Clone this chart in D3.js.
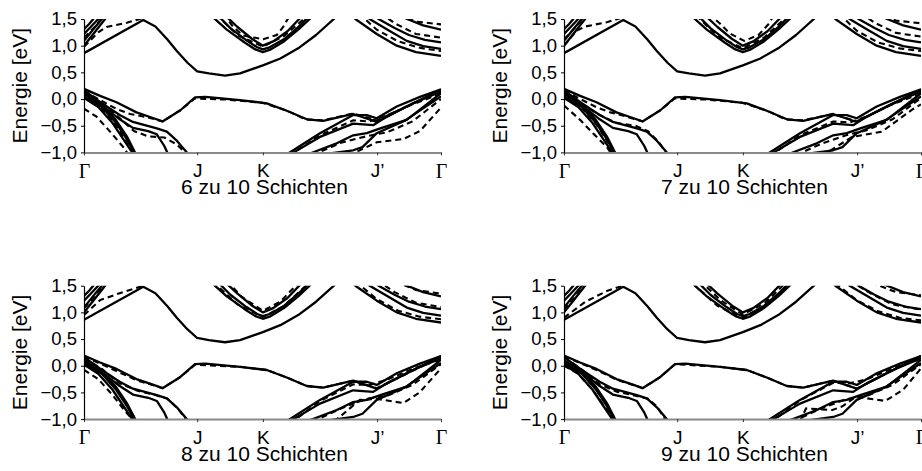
<!DOCTYPE html>
<html>
<head>
<meta charset="utf-8">
<script src="https://cdn.jsdelivr.net/npm/d3@7"></script>
<style>
  body { margin: 0; background: #fff; }
  svg { display: block; }
</style>
</head>
<body>
<svg id="dessin" width="922" height="471"></svg>
<script>
// chemin dans la zone de Brillouin (fraction du chemin) et étiquettes
const kTicks = [0, 0.317, 0.501, 0.821, 1];
const kLabels = ["Γ", "J", "K", "J’", "Γ"];
const eTicks = [-1, -0.5, 0, 0.5, 1, 1.5];
const titles = ["6 zu 10 Schichten", "7 zu 10 Schichten", "8 zu 10 Schichten", "9 zu 10 Schichten"];

// bandes 10 Schichten (trait plein), points [k, E en eV]
const c1 = [[0,0.86],[0.166,1.48],[0.2,1.36],[0.233,1.12],[0.26,0.9],[0.29,0.68],[0.317,0.52],[0.35,0.48],[0.395,0.44],[0.437,0.48],[0.501,0.63],[0.55,0.76],[0.60,0.95],[0.65,1.2],[0.70,1.5],[0.73,1.7]];
const kv1 = [[0.35,1.6],[0.40,1.3],[0.45,1.06],[0.48,0.93],[0.501,0.88],[0.52,0.92],[0.56,1.08],[0.60,1.3],[0.64,1.55]];
const kv2 = [[0.37,1.6],[0.41,1.33],[0.455,1.1],[0.485,0.97],[0.501,0.93],[0.52,0.97],[0.56,1.12],[0.60,1.35],[0.635,1.58]];
const kv3 = [[0.39,1.6],[0.43,1.35],[0.47,1.13],[0.501,1.0],[0.53,1.08],[0.57,1.27],[0.61,1.55]];
const cj1 = [[0.74,1.65],[0.76,1.5],[0.82,1.22],[0.876,1.0],[0.93,0.88],[1.0,0.81]];
const cj2 = [[0.78,1.65],[0.80,1.5],[0.848,1.31],[0.904,1.09],[0.95,0.99],[1.0,0.94]];
const cj3 = [[0.81,1.6],[0.825,1.5],[0.87,1.33],[0.91,1.2],[0.955,1.11],[1.0,1.06]];
const cj4 = [[0.88,1.6],[0.905,1.5],[0.95,1.38],[1.0,1.3]];
const cg1 = [[0,1.0],[0.03,1.25],[0.059,1.5],[0.07,1.6]];
const cg2 = [[0,1.09],[0.025,1.3],[0.05,1.5],[0.06,1.6]];
const cg3 = [[0,1.22],[0.02,1.36],[0.04,1.5],[0.05,1.58]];
const cg4 = [[0,1.31],[0.015,1.41],[0.026,1.5],[0.035,1.58]];
const v1 = [[0,0.19],[0.045,0.06],[0.091,-0.06],[0.147,-0.25],[0.195,-0.36],[0.22,-0.42],[0.27,-0.21],[0.311,0.03],[0.34,0.04],[0.437,-0.02],[0.512,-0.08],[0.568,-0.22],[0.624,-0.38],[0.67,-0.41],[0.754,-0.28],[0.82,-0.43],[0.904,-0.14],[1.0,0.18]];
const v2 = [[0,0.16],[0.05,-0.08],[0.1,-0.3],[0.137,-0.43],[0.204,-0.55],[0.232,-0.61],[0.26,-0.78],[0.288,-1.0],[0.3,-1.15]];
const v3 = [[0,0.1],[0.06,-0.17],[0.1,-0.38],[0.137,-0.54],[0.18,-0.6],[0.204,-0.66],[0.225,-0.88],[0.24,-1.1]];
const v4 = [[0,0.1],[0.05,-0.1],[0.09,-0.4],[0.12,-0.7],[0.143,-1.0],[0.155,-1.15]];
const v5 = [[0,0.05],[0.05,-0.15],[0.09,-0.45],[0.12,-0.75],[0.14,-1.0],[0.15,-1.15]];
const v6 = [[0,0.02],[0.04,-0.15],[0.08,-0.45],[0.11,-0.75],[0.135,-1.0],[0.145,-1.15]];
const vj1 = [[0.56,-1.15],[0.572,-1.02],[0.661,-0.64],[0.754,-0.3],[0.792,-0.3],[0.82,-0.36],[0.876,-0.14],[0.941,0.04],[1.0,0.18]];
const vj2 = [[0.575,-1.15],[0.582,-1.02],[0.661,-0.71],[0.754,-0.46],[0.81,-0.49],[0.848,-0.33],[0.922,-0.08],[1.0,0.14]];
const vj3 = [[0.62,-1.1],[0.633,-1.02],[0.708,-0.83],[0.754,-0.68],[0.792,-0.64],[0.83,-0.55],[0.904,-0.39],[1.0,0.11]];
const vj4 = [[0.66,-1.1],[0.689,-1.02],[0.754,-0.96],[0.78,-0.9],[0.82,-0.64],[0.9,-0.4],[1.0,0.05]];

const solid10 = [c1, kv1, kv2, kv3, cj1, cj2, cj3, cj4, cg1, cg2, cg3, cg4, v1, v2, v3, v4, v5, v6, vj1, vj2, vj3, vj4];

// bandes 6, 7, 8, 9 Schichten (tirets)
const dashed6 = [
  [[0,0.98],[0.04,1.25],[0.063,1.35],[0.12,1.43],[0.165,1.52]],
  [[0,1.15],[0.03,1.35],[0.05,1.52]],
  [[0.37,1.58],[0.43,1.2],[0.501,0.98],[0.56,1.18],[0.625,1.55]],
  [[0.39,1.6],[0.418,1.35],[0.446,1.19],[0.502,1.12],[0.54,1.2],[0.558,1.35],[0.575,1.55]],
  [[0.77,1.6],[0.82,1.3],[0.88,1.08],[0.94,0.96],[1.0,0.9]],
  [[0.83,1.62],[0.87,1.42],[0.93,1.22],[1.0,1.15]],
  [[0.88,1.58],[0.93,1.45],[1.0,1.4]],
  [[0,0.15],[0.04,0.0],[0.092,-0.19],[0.129,-0.28],[0.176,-0.34],[0.22,-0.42],[0.27,-0.21],[0.31,0.01],[0.40,-0.01],[0.5,-0.07],[0.57,-0.22],[0.62,-0.38],[0.67,-0.4],[0.754,-0.27],[0.82,-0.4],[0.9,-0.15],[1.0,0.15]],
  [[0,0.1],[0.06,-0.12],[0.11,-0.42],[0.14,-0.6],[0.18,-0.7],[0.225,-0.72],[0.26,-0.85],[0.29,-1.05]],
  [[0,-0.18],[0.035,-0.33],[0.073,-0.61],[0.11,-0.9],[0.12,-1.0],[0.13,-1.12]],
  [[0,0.03],[0.05,-0.18],[0.09,-0.5],[0.12,-0.82],[0.14,-1.0],[0.15,-1.12]],
  [[0.74,-1.05],[0.76,-1.0],[0.82,-0.81],[0.895,-0.75],[0.941,-0.6],[1.0,-0.16]],
  [[0.58,-1.1],[0.6,-0.95],[0.661,-0.68],[0.754,-0.4],[0.8,-0.42],[0.85,-0.3],[0.92,-0.1],[1.0,0.1]],
  [[0.64,-1.05],[0.72,-0.82],[0.79,-0.7],[0.85,-0.62],[0.92,-0.42],[1.0,0.0]]
];
const dashed7 = [
  [[0,1.0],[0.035,1.28],[0.06,1.36],[0.12,1.44],[0.16,1.52]],
  [[0,1.12],[0.03,1.33],[0.055,1.53]],
  [[0.37,1.57],[0.43,1.18],[0.501,0.95],[0.56,1.15],[0.625,1.55]],
  [[0.405,1.6],[0.436,1.42],[0.464,1.23],[0.505,1.09],[0.545,1.2],[0.575,1.42],[0.59,1.6]],
  [[0.77,1.6],[0.82,1.28],[0.88,1.06],[0.94,0.95],[1.0,0.9]],
  [[0.83,1.62],[0.87,1.43],[0.93,1.24],[1.0,1.17]],
  [[0.87,1.6],[0.93,1.47],[1.0,1.42]],
  [[0,0.16],[0.04,0.02],[0.09,-0.15],[0.13,-0.25],[0.176,-0.33],[0.22,-0.42],[0.27,-0.21],[0.31,0.01],[0.40,-0.01],[0.5,-0.07],[0.57,-0.22],[0.62,-0.38],[0.67,-0.4],[0.754,-0.28],[0.82,-0.42],[0.9,-0.16],[1.0,0.16]],
  [[0,0.12],[0.05,-0.1],[0.1,-0.3],[0.147,-0.45],[0.2,-0.5],[0.235,-0.6],[0.265,-0.8],[0.29,-1.05]],
  [[0,-0.12],[0.045,-0.39],[0.081,-0.64],[0.12,-0.9],[0.13,-1.0],[0.14,-1.1]],
  [[0,0.04],[0.05,-0.16],[0.09,-0.47],[0.122,-0.8],[0.142,-1.0],[0.152,-1.12]],
  [[0.72,-1.05],[0.75,-0.95],[0.807,-0.71],[0.891,-0.61],[0.975,-0.2],[1.0,-0.1]],
  [[0.58,-1.1],[0.6,-0.96],[0.661,-0.68],[0.754,-0.42],[0.8,-0.44],[0.85,-0.32],[0.92,-0.1],[1.0,0.1]],
  [[0.65,-1.05],[0.72,-0.84],[0.79,-0.68],[0.85,-0.58],[0.92,-0.38],[1.0,0.02]]
];
const dashed8 = [
  [[0,0.95],[0.045,1.23],[0.1,1.36],[0.157,1.48],[0.17,1.52]],
  [[0,1.08],[0.03,1.3],[0.055,1.52]],
  [[0.36,1.58],[0.43,1.15],[0.501,0.91],[0.56,1.12],[0.63,1.55]],
  [[0.4,1.6],[0.44,1.3],[0.501,1.03],[0.55,1.2],[0.6,1.55]],
  [[0.76,1.58],[0.82,1.25],[0.88,1.03],[0.94,0.92],[1.0,0.87]],
  [[0.82,1.6],[0.87,1.38],[0.93,1.18],[1.0,1.1]],
  [[0.87,1.58],[0.93,1.42],[1.0,1.35]],
  [[0,0.17],[0.045,0.04],[0.091,-0.1],[0.147,-0.27],[0.22,-0.42],[0.27,-0.21],[0.311,0.02],[0.437,-0.02],[0.512,-0.08],[0.568,-0.22],[0.624,-0.38],[0.67,-0.41],[0.754,-0.28],[0.82,-0.42],[0.904,-0.15],[1.0,0.17]],
  [[0,0.14],[0.05,-0.06],[0.1,-0.33],[0.15,-0.47],[0.2,-0.55],[0.235,-0.62],[0.265,-0.82],[0.29,-1.05]],
  [[0,-0.08],[0.04,-0.25],[0.08,-0.55],[0.115,-0.85],[0.135,-1.0],[0.145,-1.1]],
  [[0,0.06],[0.05,-0.13],[0.09,-0.43],[0.12,-0.75],[0.145,-1.0],[0.155,-1.1]],
  [[0.7,-1.05],[0.773,-0.64],[0.82,-0.62],[0.894,-0.7],[0.94,-0.5],[1.0,-0.05]],
  [[0.58,-1.1],[0.6,-0.97],[0.661,-0.66],[0.754,-0.35],[0.8,-0.36],[0.85,-0.26],[0.92,-0.06],[1.0,0.12]],
  [[0.64,-1.05],[0.72,-0.8],[0.79,-0.62],[0.85,-0.56],[0.92,-0.36],[1.0,0.03]]
];
const dashed9 = [
  [[0,0.9],[0.06,1.2],[0.12,1.4],[0.165,1.5]],
  [[0,1.05],[0.03,1.28],[0.055,1.5]],
  [[0.36,1.55],[0.43,1.12],[0.501,0.9],[0.56,1.1],[0.635,1.55]],
  [[0.38,1.6],[0.44,1.22],[0.501,0.96],[0.56,1.16],[0.625,1.58]],
  [[0.76,1.55],[0.82,1.23],[0.88,1.02],[0.94,0.9],[1.0,0.85]],
  [[0.8,1.6],[0.86,1.35],[0.92,1.15],[1.0,1.05]],
  [[0.86,1.56],[0.93,1.38],[1.0,1.32]],
  [[0,0.18],[0.045,0.05],[0.091,-0.08],[0.147,-0.26],[0.22,-0.42],[0.27,-0.21],[0.311,0.03],[0.437,-0.02],[0.512,-0.08],[0.568,-0.22],[0.624,-0.38],[0.67,-0.41],[0.754,-0.28],[0.82,-0.43],[0.904,-0.14],[1.0,0.18]],
  [[0,0.16],[0.05,-0.07],[0.1,-0.35],[0.15,-0.49],[0.2,-0.56],[0.235,-0.62],[0.26,-0.76],[0.285,-1.02]],
  [[0,0.0],[0.04,-0.15],[0.08,-0.45],[0.115,-0.78],[0.14,-1.0],[0.15,-1.1]],
  [[0,0.06],[0.05,-0.14],[0.09,-0.44],[0.12,-0.74],[0.143,-1.0],[0.153,-1.1]],
  [[0.66,-1.05],[0.678,-0.8],[0.752,-0.83],[0.78,-0.76],[0.818,-0.58],[0.9,-0.66],[0.95,-0.45],[1.0,-0.05]],
  [[0.58,-1.1],[0.6,-0.96],[0.661,-0.65],[0.754,-0.32],[0.8,-0.33],[0.85,-0.25],[0.92,-0.05],[1.0,0.13]],
  [[0.64,-1.05],[0.72,-0.8],[0.79,-0.63],[0.85,-0.56],[0.92,-0.36],[1.0,0.03]]
];
const dashedSets = [dashed6, dashed7, dashed8, dashed9];

// position des 4 panneaux (coin haut-gauche de la zone de tracé)
const panels = [
  { x0: 84, y0: 19 },
  { x0: 564, y0: 19 },
  { x0: 84, y0: 285.7 },
  { x0: 564, y0: 285.7 }
];
const plotW = 357, plotH = 133.4;

const fmt = d => (d < 0 ? "\u2212" : "") + Math.abs(d).toFixed(1).replace(".", ",");

const svg = d3.select("#dessin");

panels.forEach((p, i) => {
  const x = d3.scaleLinear().domain([0, 1]).range([p.x0, p.x0 + plotW]);
  const y = d3.scaleLinear().domain([-1, 1.5]).range([p.y0 + plotH, p.y0]);
  const line = d3.line().x(d => x(d[0])).y(d => y(d[1]));

  const g = svg.append("g");
  g.append("clipPath").attr("id", "clip" + i)
    .append("rect")
    .attr("x", p.x0).attr("y", p.y0)
    .attr("width", plotW).attr("height", plotH);

  const plot = g.append("g").attr("clip-path", `url(#clip${i})`);
  plot.selectAll(".dash")
    .data(dashedSets[i])
    .enter()
    .append("path")
    .attr("class", "dash")
    .attr("d", line)
    .style("fill", "none")
    .style("stroke", "black")
    .style("stroke-width", 2.1)
    .style("stroke-dasharray", "6,4");
  plot.selectAll(".solid")
    .data(solid10)
    .enter()
    .append("path")
    .attr("class", "solid")
    .attr("d", line)
    .style("fill", "none")
    .style("stroke", "black")
    .style("stroke-width", 2.3)
    .style("stroke-linejoin", "round");

  // axe du bas (points de symétrie)
  const ax = g.append("g")
    .attr("transform", `translate(0,${y(-1)})`)
    .call(d3.axisBottom(x).tickValues(kTicks).tickFormat((d, j) => kLabels[j]).tickSize(3).tickSizeOuter(0).tickPadding(8));
  ax.select(".domain").style("stroke", "#8a8a8a").style("stroke-width", 2);
  ax.selectAll(".tick line").style("stroke", "#333");
  ax.selectAll(".tick text")
    .style("font-family", (d, j) => kLabels[j] == "Γ" ? "'Liberation Serif', 'Times New Roman', serif" : "'Liberation Sans', Arial, sans-serif")
    .style("font-size", (d, j) => kLabels[j] == "Γ" ? "20px" : "19px")
    .style("fill", "black");

  // axe de l'énergie
  const ay = g.append("g")
    .attr("transform", `translate(${p.x0},0)`)
    .call(d3.axisLeft(y).tickValues(eTicks).tickFormat(fmt).tickSize(3).tickSizeOuter(0).tickPadding(4));
  ay.select(".domain").style("stroke", "black").style("stroke-width", 1.2);
  ay.selectAll(".tick text")
    .style("font-family", "'Liberation Sans', Arial, sans-serif")
    .style("font-size", "18.5px")
    .style("fill", "black");

  g.append("text")
    .attr("transform", `translate(${p.x0 - 57},${p.y0 + plotH / 2}) rotate(-90)`)
    .attr("text-anchor", "middle")
    .style("font-family", "'Liberation Sans', Arial, sans-serif")
    .style("font-size", "21px")
    .text("Energie [eV]");

  g.append("text")
    .attr("x", p.x0 + plotW / 2 + 2)
    .attr("y", p.y0 + plotH + 42)
    .attr("text-anchor", "middle")
    .style("font-family", "'Liberation Sans', Arial, sans-serif")
    .style("font-size", "21px")
    .text(titles[i]);
});
</script>
</body>
</html>
